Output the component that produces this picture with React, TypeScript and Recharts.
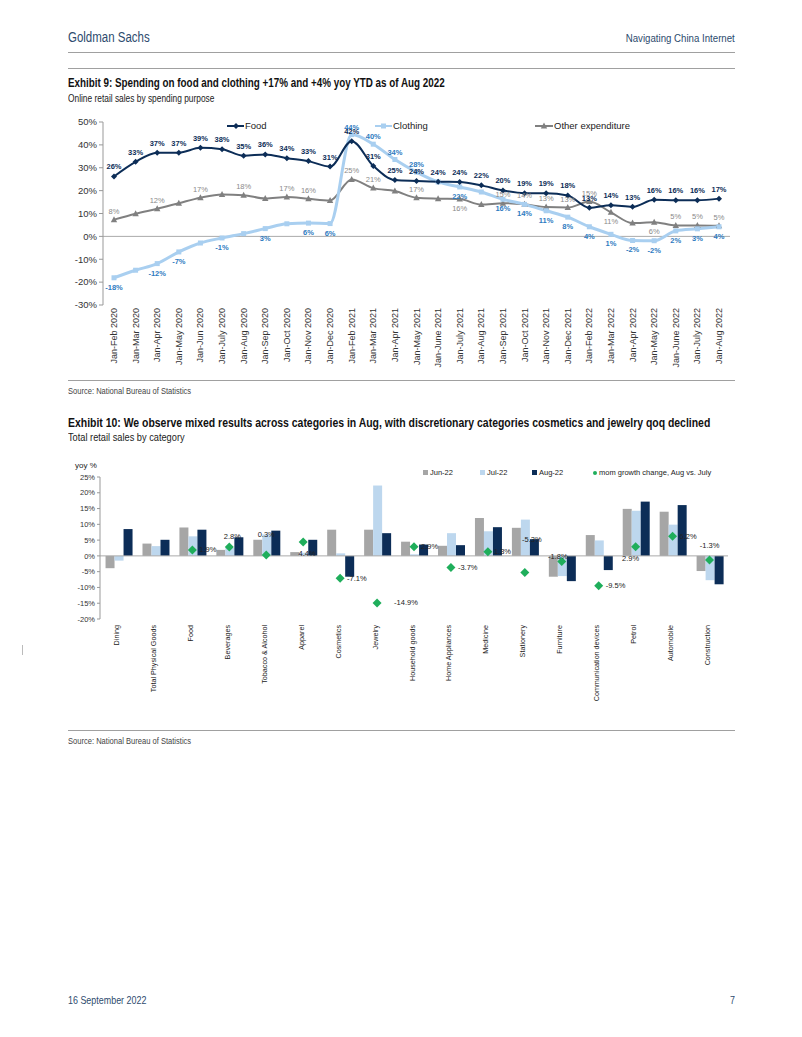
import React from "react";
import {
  LineChart,
  Line,
  XAxis,
  YAxis,
  ReferenceLine,
  LabelList,
  ComposedChart,
  Bar,
} from "recharts";

// ---- Exhibit 9 data (online retail sales yoy, YTD) ----
const months = [
  "Jan-Feb 2020", "Jan-Mar 2020", "Jan-Apr 2020", "Jan-May 2020", "Jan-Jun 2020",
  "Jan-July 2020", "Jan-Aug 2020", "Jan-Sep 2020", "Jan-Oct 2020", "Jan-Nov 2020",
  "Jan-Dec 2020", "Jan-Feb 2021", "Jan-Mar 2021", "Jan-Apr 2021", "Jan-May 2021",
  "Jan-June 2021", "Jan-July 2021", "Jan-Aug 2021", "Jan-Sep 2021", "Jan-Oct 2021",
  "Jan-Nov 2021", "Jan-Dec 2021", "Jan-Feb 2022", "Jan-Mar 2022", "Jan-Apr 2022",
  "Jan-May 2022", "Jan-June 2022", "Jan-July 2022", "Jan-Aug 2022",
];
const foodYoy = [
  26.2, 32.6, 36.6, 36.6, 38.7, 38.1, 35.3, 35.8, 34.2, 32.9, 30.5, 41.6, 30.8, 24.6, 24.2,
  23.9, 23.8, 22.3, 20.1, 18.9, 18.9, 17.9, 12.5, 13.6, 12.9, 16.0, 15.8, 15.8, 16.5,
];
const clothingYoy = [
  -18.1, -14.8, -11.9, -6.8, -2.9, -0.7, 1.2, 3.4, 5.5, 5.8, 5.6, 44.5, 40.3, 33.6, 28.1,
  23.8, 21.6, 19.4, 16.2, 14.0, 11.2, 8.4, 4.2, 0.9, -1.8, -1.9, 2.4, 3.3, 4.2,
];
const otherYoy = [
  7.3, 9.9, 12.1, 14.5, 16.9, 18.3, 18.0, 16.6, 17.2, 16.4, 15.7, 24.9, 21.1, 19.8, 16.9,
  16.5, 16.3, 13.9, 14.5, 14.0, 12.8, 12.6, 15.2, 10.5, 5.8, 6.2, 4.8, 4.8, 4.6,
];
const foodLabels = [
  26, 33, 37, 37, 39, 38, 35, 36, 34, 33, 31, 42, 31, 25, 24,
  24, 24, 22, 20, 19, 19, 18, 13, 14, 13, 16, 16, 16, 17,
];
const clothingLabels = [
  -18, null, -12, -7, null, -1, null, 3, null, 6, 6, 44, 40, 34, 28,
  null, 22, null, 16, 14, 11, 8, 4, 1, -2, -2, 2, 3, 4,
];
const otherLabels = [
  8, null, 12, null, 17, null, 18, null, 17, 16, null, 25, 21, null, 17,
  null, 16, null, 15, 14, 13, 13, 15, 11, null, 6, 5, 5, 5,
];
const lineTicks = [-30, -20, -10, 0, 10, 20, 30, 40, 50];

// ---- Exhibit 10 data (total retail sales by category, yoy %) ----
const categories = [
  "Dining", "Total Physical Goods", "Food", "Beverages", "Tobacco & Alcohol", "Apparel",
  "Cosmetics", "Jewelry", "Household goods", "Home Appliances", "Medicine", "Stationery",
  "Furniture", "Communication devices", "Petrol", "Automobile", "Construction",
];
const jun22 = [-3.9, 3.9, 9.0, 1.9, 5.1, 1.2, 8.3, 8.3, 4.5, 3.2, 12.0, 8.9, -6.6, 6.6, 14.9, 14.0, -4.8];
const jul22 = [-1.5, 3.1, 6.2, 2.5, 6.8, 1.0, 0.8, 22.3, 0.5, 7.2, 7.8, 11.5, -6.4, 4.9, 14.3, 9.9, -7.7];
const aug22 = [8.5, 5.1, 8.3, 5.9, 8.0, 5.1, -6.6, 7.2, 3.6, 3.4, 9.1, 5.3, -8.0, -4.5, 17.2, 16.1, -9.0];
const momChange = [null, null, 1.9, 2.8, 0.3, 4.4, -7.1, -14.9, 2.9, -3.7, 1.3, -5.3, -1.8, -9.5, 2.9, 6.2, -1.3];
const barTicks = [-20, -15, -10, -5, 0, 5, 10, 15, 20, 25];

const FONT = '"Liberation Sans", Arial, sans-serif';

const NAVY = "#0c2d57";
const LIGHT = "#a9cff0";
const GREY = "#808080";
const LABEL_BLUE = "#2f7bbf";

const lineData = months.map((month, i) => ({
  month,
  food: foodYoy[i],
  clothing: clothingYoy[i],
  other: otherYoy[i],
  foodLabel: foodLabels[i],
  clothingLabel: clothingLabels[i],
  otherLabel: otherLabels[i],
}));

const barData = categories.map((cat, i) => ({
  cat,
  jun: jun22[i],
  jul: jul22[i],
  aug: aug22[i],
  mom: momChange[i],
}));

// where the "other" labels sit below their point
const otherBelow = new Set([16, 23, 25]);
// label nudges for the mom diamonds: [dx, dy, anchor]
const momLabelOffset: Array<[number, number, string]> = [
  [0, 0, "start"], [0, 0, "start"], [7, 0, "start"], [3, -11, "middle"], [0, -20, "middle"],
  [4, 11, "middle"], [7, 0, "start"], [17, 0, "start"], [7, 0, "start"], [7, 0, "start"],
  [6, 0, "start"], [7, -33, "middle"], [-4, -5, "middle"], [7, 0, "start"], [-5, 12, "middle"],
  [7, 0, "start"], [0, -14, "middle"],
];

function FoodDot({ cx, cy }: any) {
  if (cx == null || cy == null) return null;
  return <path d={`M${cx},${cy - 3} L${cx + 3},${cy} L${cx},${cy + 3} L${cx - 3},${cy} Z`} fill={NAVY} />;
}
function ClothingDot({ cx, cy }: any) {
  if (cx == null || cy == null) return null;
  return <rect x={cx - 2.5} y={cy - 2.5} width={5} height={5} fill={LIGHT} />;
}
function OtherDot({ cx, cy }: any) {
  if (cx == null || cy == null) return null;
  return <path d={`M${cx},${cy - 3.5} L${cx + 3.2},${cy + 2.5} L${cx - 3.2},${cy + 2.5} Z`} fill={GREY} />;
}
function MomDot({ cx, cy, value }: any) {
  if (cx == null || cy == null || value == null) return null;
  return <path d={`M${cx},${cy - 4.5} L${cx + 4.5},${cy} L${cx},${cy + 4.5} L${cx - 4.5},${cy} Z`} fill="#1fae5b" />;
}

function MonthTick({ x, y, payload }: any) {
  return (
    <text
      transform={`translate(${x},${y + 1}) rotate(-90)`}
      textAnchor="end"
      dominantBaseline="central"
      fontSize={9}
      fontFamily={FONT}
      fill="#333"
    >
      {payload.value}
    </text>
  );
}
function CatTick({ x, y, payload }: any) {
  return (
    <text
      transform={`translate(${x - 2},${y + 4}) rotate(-90)`}
      textAnchor="end"
      dominantBaseline="central"
      fontSize={7.2}
      fontFamily={FONT}
      fill="#222"
    >
      {payload.value}
    </text>
  );
}

function pctLabel(color: string, weight: string, place: (i: number) => number) {
  return (props: any) => {
    const { x, y, value, index } = props;
    if (value == null) return null;
    return (
      <text
        x={x}
        y={y + place(index)}
        textAnchor="middle"
        fontSize={7.5}
        fontWeight={weight}
        fontFamily={FONT}
        fill={color}
      >
        {`${value}%`}
      </text>
    );
  };
}

function MomLabel(props: any) {
  const { x, y, value, index } = props;
  if (value == null) return null;
  const [dx, dy, anchor] = momLabelOffset[index];
  return (
    <text
      x={x + dx}
      y={y + dy}
      dominantBaseline="central"
      textAnchor={anchor as any}
      fontSize={7.5}
      fontFamily={FONT}
      fill="#222"
    >
      {`${value.toFixed(1)}%`}
    </text>
  );
}

const rule = (top: number) => (
  <div style={{ position: "absolute", left: 68, width: 667, top, height: 1, background: "#a0a0a0" }} />
);

// condensed page text: Liberation Sans squeezed horizontally
const txt = (style: React.CSSProperties, content: string, sx = 0.82, fromRight = false) => (
  <div
    style={{
      position: "absolute",
      whiteSpace: "nowrap",
      fontFamily: FONT,
      lineHeight: 1,
      transform: `scaleX(${sx})`,
      transformOrigin: fromRight ? "right top" : "left top",
      ...style,
    }}
  >
    {content}
  </div>
);

function LineLegend() {
  const item = (x: number, label: string, color: string, w: number, marker: React.ReactNode) => (
    <div style={{ position: "absolute", left: x, top: 120, display: "flex", alignItems: "center" }}>
      <svg width={w} height={10}>
        <line x1={0} y1={5} x2={w} y2={5} stroke={color} strokeWidth={2} />
        {marker}
      </svg>
      <span style={{ fontFamily: FONT, fontSize: 9.5, color: "#222", marginLeft: 1 }}>{label}</span>
    </div>
  );
  return (
    <>
      {item(227, "Food", NAVY, 17, <path d="M9,2 L12,5 L9,8 L6,5 Z" fill={NAVY} />)}
      {item(375, "Clothing", LIGHT, 17, <rect x={6} y={2.5} width={5} height={5} fill={LIGHT} />)}
      {item(535, "Other expenditure", GREY, 18, <path d="M9,1.5 L12.2,7.5 L5.8,7.5 Z" fill={GREY} />)}
    </>
  );
}

function BarLegend() {
  const item = (x: number, label: string, color: string, round = false) => (
    <div style={{ position: "absolute", left: x, top: 468, display: "flex", alignItems: "center" }}>
      <span
        style={{
          display: "inline-block",
          width: round ? 4 : 5,
          height: round ? 4 : 5,
          borderRadius: round ? 2 : 0,
          background: color,
          marginRight: 2,
        }}
      />
      <span style={{ fontFamily: FONT, fontSize: 7.5, color: "#222" }}>{label}</span>
    </div>
  );
  return (
    <>
      {item(423, "Jun-22", "#a6a6a6")}
      {item(480, "Jul-22", "#bdd7ee")}
      {item(532, "Aug-22", NAVY)}
      {item(593, "mom growth change, Aug vs. July", "#1fae5b", true)}
    </>
  );
}

export default function App() {
  return (
    <div
      style={{
        position: "relative",
        width: 802,
        height: 1037,
        margin: -8,
        overflow: "hidden",
        background: "#fff",
      }}
    >
      {txt({ left: 68, top: 30, fontSize: 14, color: "#2d4b6e" }, "Goldman Sachs")}
      {txt({ right: 67, top: 33, fontSize: 11.5, color: "#2d4b6e" }, "Navigating China Internet", 0.84, true)}
      {rule(52)}
      {rule(68)}
      {txt({ left: 68, top: 77, fontSize: 12, fontWeight: "bold", color: "#111" },
        "Exhibit 9: Spending on food and clothing +17% and +4% yoy YTD as of Aug 2022")}
      {txt({ left: 68, top: 93, fontSize: 11, color: "#222" }, "Online retail sales by spending purpose", 0.76)}

      <div style={{ position: "absolute", left: 0, top: 100 }}>
        <LineChart width={802} height={290} data={lineData} margin={{ top: 22, right: 72, bottom: 10, left: 63 }}>
          <XAxis
            dataKey="month"
            interval={0}
            axisLine={false}
            tickLine={false}
            tickSize={0}
            height={75}
            padding={{ left: 11, right: 11 }}
            tick={<MonthTick />}
          />
          <YAxis
            width={40}
            domain={[-30, 50]}
            ticks={lineTicks}
            interval={0}
            tickFormatter={(v: number) => `${v}%`}
            tick={{ fontSize: 9.5, fill: "#333", fontFamily: FONT }}
            axisLine={{ stroke: "#999" }}
            tickLine={{ stroke: "#999" }}
            tickSize={4}
          />
          <ReferenceLine y={0} stroke="#aaa" strokeWidth={1} />
          <Line
            type="monotone"
            dataKey="other"
            stroke={GREY}
            strokeWidth={2}
            dot={<OtherDot />}
            activeDot={false}
            isAnimationActive={false}
          >
            <LabelList dataKey="otherLabel" content={pctLabel("#8a8a8a", "normal", (i) => (otherBelow.has(i) ? 12 : -6))} />
          </Line>
          <Line
            type="monotone"
            dataKey="clothing"
            stroke={LIGHT}
            strokeWidth={3}
            dot={<ClothingDot />}
            activeDot={false}
            isAnimationActive={false}
          >
            <LabelList
              dataKey="clothingLabel"
              content={pctLabel(LABEL_BLUE, "bold", (i) => (clothingYoy[i] > foodYoy[i] ? -5 : 12))}
            />
          </Line>
          <Line
            type="monotone"
            dataKey="food"
            stroke={NAVY}
            strokeWidth={2}
            dot={<FoodDot />}
            activeDot={false}
            isAnimationActive={false}
          >
            <LabelList dataKey="foodLabel" content={pctLabel(NAVY, "bold", () => -7)} />
          </Line>
        </LineChart>
      </div>
      <LineLegend />

      {rule(380)}
      {txt({ left: 68, top: 387, fontSize: 9, color: "#444" }, "Source: National Bureau of Statistics", 0.84)}

      {txt({ left: 68, top: 417, fontSize: 12, fontWeight: "bold", color: "#111" },
        "Exhibit 10: We observe mixed results across categories in Aug, with discretionary categories cosmetics and jewelry qoq declined", 0.87)}
      {txt({ left: 68, top: 432, fontSize: 11, color: "#222" }, "Total retail sales by category", 0.84)}

      <div style={{ position: "absolute", left: 75, top: 461, fontFamily: FONT, fontSize: 8, color: "#222" }}>yoy %</div>
      <div style={{ position: "absolute", left: 0, top: 450 }}>
        <ComposedChart
          width={802}
          height={270}
          data={barData}
          margin={{ top: 27, right: 74, bottom: 6, left: 60 }}
          barCategoryGap="15%"
          barGap={0}
        >
          <XAxis
            dataKey="cat"
            interval={0}
            axisLine={false}
            tickLine={false}
            tickSize={0}
            height={95}
            tick={<CatTick />}
          />
          <YAxis
            width={40}
            domain={[-20, 25]}
            ticks={barTicks}
            interval={0}
            tickFormatter={(v: number) => `${v}%`}
            tick={{ fontSize: 7.5, fill: "#333", fontFamily: FONT }}
            axisLine={{ stroke: "#999" }}
            tickLine={{ stroke: "#999" }}
            tickSize={3}
          />
          <ReferenceLine y={0} stroke="#aaa" strokeWidth={1} />
          <Bar dataKey="jun" fill="#a6a6a6" isAnimationActive={false} />
          <Bar dataKey="jul" fill="#bdd7ee" isAnimationActive={false} />
          <Bar dataKey="aug" fill={NAVY} isAnimationActive={false} />
          <Line
            dataKey="mom"
            stroke="none"
            dot={<MomDot />}
            activeDot={false}
            isAnimationActive={false}
            connectNulls={false}
          >
            <LabelList dataKey="mom" content={<MomLabel />} />
          </Line>
        </ComposedChart>
      </div>
      <BarLegend />

      {rule(730)}
      {txt({ left: 68, top: 737, fontSize: 9, color: "#444" }, "Source: National Bureau of Statistics", 0.84)}

      <div style={{ position: "absolute", left: 22, top: 645, width: 1, height: 10, background: "#bbb" }} />

      {txt({ left: 68, top: 995, fontSize: 10.5, color: "#2d4b6e" }, "16 September 2022", 0.85)}
      {txt({ right: 67, top: 995, fontSize: 10.5, color: "#2d4b6e" }, "7", 0.85, true)}
    </div>
  );
}
